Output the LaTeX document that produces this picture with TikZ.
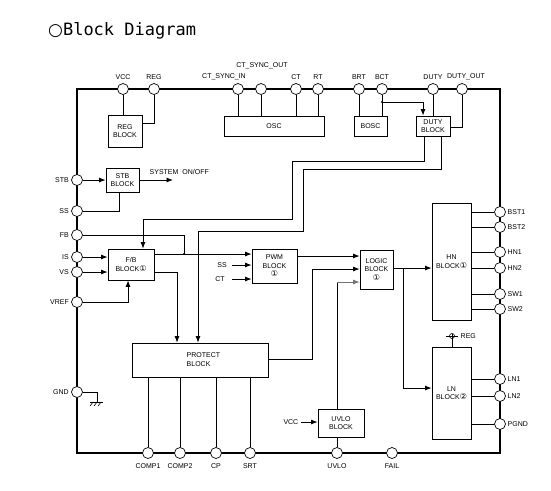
\documentclass[tikz,border=0pt]{standalone}
\usepackage{fontspec}
\setmainfont{Liberation Sans}
\newfontfamily\djv{DejaVu Sans}
\newfontfamily\djm{DejaVu Sans Mono}
\usetikzlibrary{arrows.meta}
\newcommand\cone{{\djv\fontsize{8}{8.5}\selectfont ①}}
\newcommand\ctwo{{\djv\fontsize{8}{8.5}\selectfont ②}}
\begin{document}
\begin{tikzpicture}[x=1pt,y=-1pt,
  pin/.style={circle,draw,fill=white,minimum size=11pt,inner sep=0pt,line width=0.7pt},
  blk/.style={draw,fill=white,line width=0.8pt,inner sep=0pt,align=center,font=\fontsize{7}{8.5}\selectfont},
  lbl/.style={font=\fontsize{7}{8}\selectfont,inner sep=0.5pt},
  wire/.style={line width=0.8pt},
  arr/.style={wire,-{Latex[length=6.5pt,width=5pt]}}]
\useasboundingbox (0,0) rectangle (551,490);
\node[anchor=west,inner sep=0pt,font=\djm\fontsize{17}{20}\selectfont] (title) at (48,31) {{\djv ○}Block Diagram};
% chip outline
\draw[line width=2.6pt] (77,89) rectangle (500,453);
% top pins
\foreach \n/\x in {vcc/123,regp/154,csin/238,csout/261,ct/296,rt/318,brt/359,bct/382,duty/433,dout/462}
  \node[pin] (\n) at (\x,89) {};
\node[lbl] (lvcc) at (123,77) {VCC};
\node[lbl] (lreg) at (154,77) {REG};
\node[lbl] (lcsin) at (224,77) {CT\_SYNC\_IN};
\node[lbl] (lcsout) at (262,66) {CT\_SYNC\_OUT};
\node[lbl] (lct) at (296,77) {CT};
\node[lbl] (lrt) at (318,77) {RT};
\node[lbl] (lbrt) at (359,77) {BRT};
\node[lbl] (lbct) at (382,77) {BCT};
\node[lbl] (lduty) at (433,77) {DUTY};
\node[lbl] (ldout) at (466,77) {DUTY\_OUT};
% left pins
\foreach \n/\y/\t in {stb/180/STB,ss/211/SS,fb/235/FB,is/257/IS,vs/272/VS,vref/302/VREF,gnd/392/GND}{
  \node[pin] (\n) at (77,\y) {};
  \node[lbl,anchor=east] (l\n) at (69.5,\y) {\t};}
% right pins
\foreach \n/\y/\t in {bst1/212/BST1,bst2/227/BST2,hn1/252/HN1,hn2/268/HN2,sw1/294/SW1,sw2/309/SW2,ln1/379/LN1,ln2/396/LN2,pgnd/424/PGND}{
  \node[pin] (\n) at (500,\y) {};
  \node[lbl,anchor=west] (l\n) at (507,\y) {\t};}
% bottom pins
\foreach \n/\x/\t in {comp1/148/COMP1,comp2/180/COMP2,cp/216/CP,srt/250/SRT,uvlop/337/UVLO,fail/392/FAIL}{
  \node[pin] (\n) at (\x,453) {};
  \node[lbl] (l\n) at (\x,466) {\t};}
% blocks
\node[blk,minimum width=34pt,minimum height=32pt] (regb) at (125,131) {REG\\BLOCK};
\node[blk,minimum width=100pt,minimum height=20pt] (osc) at (274,126) {OSC};
\node[blk,minimum width=33pt,minimum height=20pt] (bosc) at (370.5,126) {BOSC};
\node[blk,minimum width=34pt,minimum height=20pt] (dutyb) at (433,126) {DUTY\\BLOCK};
\node[blk,minimum width=33pt,minimum height=24pt] (stbb) at (122.5,180) {STB\\BLOCK};
\node[blk,minimum width=46pt,minimum height=31pt] (fbb) at (131,264.5) {F/B\\BLOCK\cone};
\node[blk,minimum width=45pt,minimum height=34pt] (pwm) at (274.5,266) {PWM\\BLOCK\\\cone};
\node[blk,minimum width=33pt,minimum height=39pt] (logic) at (376.5,269.5) {LOGIC\\BLOCK\\\cone};
\node[blk,minimum width=39pt,minimum height=117pt] (hn) at (451.5,261.5) {HN\\BLOCK\cone};
\node[blk,minimum width=39pt,minimum height=92pt] (lnb) at (451.5,393) {LN\\BLOCK\ctwo};
\node[blk,minimum width=46pt,minimum height=28pt] (uvlo) at (341,423) {UVLO\\BLOCK};
\node[blk,minimum width=136pt,minimum height=34pt] (prot) at (200,360) {};
\node[lbl,anchor=west,align=left,font=\fontsize{7}{9}\selectfont] (prott) at (186,360) {PROTECT\\BLOCK};
% top wiring
\draw[wire] (vcc.south) -- (vcc.south |- regb.north);
\draw[wire] (regp.south) |- (regb.east |- 0,123);
\foreach \n in {csin,csout,ct,rt} \draw[wire] (\n.south) -- (\n.south |- osc.north);
\foreach \n in {brt,bct} \draw[wire] (\n.south) -- (\n.south |- bosc.north);
\coordinate (bctj) at (382,102);
\fill (bctj) circle (1.1pt);
\draw[arr] (bctj) -| ([xshift=-10pt]dutyb.north);
\draw[wire] (duty.south) -- (duty.south |- dutyb.north);
\draw[wire] (dout.south) |- (dutyb.east |- 0,127);
\draw[arr] ([xshift=-9pt]dutyb.south) |- (292,161) -- (292,219) -| ([xshift=12pt]fbb.north);
\draw[arr] ([xshift=8pt]dutyb.south) |- (303,169) -- (303,231) -| ([xshift=-2pt]prot.north);
% left wiring
\coordinate (sysend) at (173,180);
\draw[arr] (stb.east) -- (stbb.west);
\draw[arr] (stbb.east) -- (sysend);
\node[lbl,anchor=west] (sys) at (149,172) {SYSTEM\ \ ON/OFF};
\draw[wire] (ss.east) -| ([xshift=-3.5pt]stbb.south);
\coordinate (fbj) at (184,254);
\draw[wire] (fb.east) -| (fbj);
\fill (fbj) circle (1.1pt);
\draw[arr] (fbb.east |- 0,254) -- (pwm.west |- 0,254);
\draw[arr] (is.east) -- (fbb.west |- is);
\draw[arr] (vs.east) -- (fbb.west |- vs);
\draw[arr] (vref.east) -| ([xshift=-3pt]fbb.south);
\draw[arr] (fbb.east |- 0,272) -| ([xshift=-23pt]prot.north);
% PWM inputs
\node[lbl] (lss2) at (222,265) {SS};
\node[lbl] (lct2) at (220,279) {CT};
\coordinate (ssin) at (232,265);
\coordinate (ctin) at (232,279);
\draw[arr] (ssin) -- (pwm.west |- ssin);
\draw[arr] (ctin) -- (pwm.west |- ctin);
\draw[arr] (pwm.east |- 0,256) -- (logic.west |- 0,256);
\draw[arr] (prot.east |- 0,359) -| (312,269) -- (logic.west |- 0,269);
\draw[wire] ([xshift=-4pt]uvlo.north) -- ++(0,-127);
\draw[arr,draw=black!55] (337,282) -- (logic.west |- 0,282);
\coordinate (lj) at (403,268);
\draw[arr] (logic.east |- lj) -- (hn.west |- lj);
\draw[arr] (lj) |- (lnb.west |- 0,388);
% right wiring
\foreach \n in {bst1,bst2,hn1,hn2,sw1,sw2} \draw[wire] (hn.east |- \n) -- (\n.west);
\foreach \n in {ln1,ln2,pgnd} \draw[wire] (lnb.east |- \n) -- (\n.west);
\coordinate (lnreg) at (452,336);
\draw[wire] (lnb.north -| lnreg) -- ([yshift=2.5pt]lnreg);
\draw[line width=0.6pt] (lnreg) circle (2.5pt);
\draw[line width=0.6pt] (446,336) -- (458,336);
\node[lbl,anchor=west] (lregt) at (460,336) {REG};
% UVLO
\node[lbl,anchor=east] (lvcc2) at (299,422) {VCC};
\coordinate (uvin) at (301,422);
\draw[arr] (uvin) -- (uvlo.west |- uvin);
\draw[wire] ([xshift=-4pt]uvlo.south) -- (uvlop.north);
% protect outputs
\foreach \n in {comp1,comp2,cp,srt} \draw[wire] (\n.north |- prot.south) -- (\n.north);
% GND
\draw[wire] (gnd.east) -| (97,402);
\draw[line width=0.6pt] (90,402) -- (103,402);
\foreach \x in {93,97,101} \draw[line width=0.6pt] (\x,402) -- ++(-3,4);
\end{tikzpicture}
\end{document}
